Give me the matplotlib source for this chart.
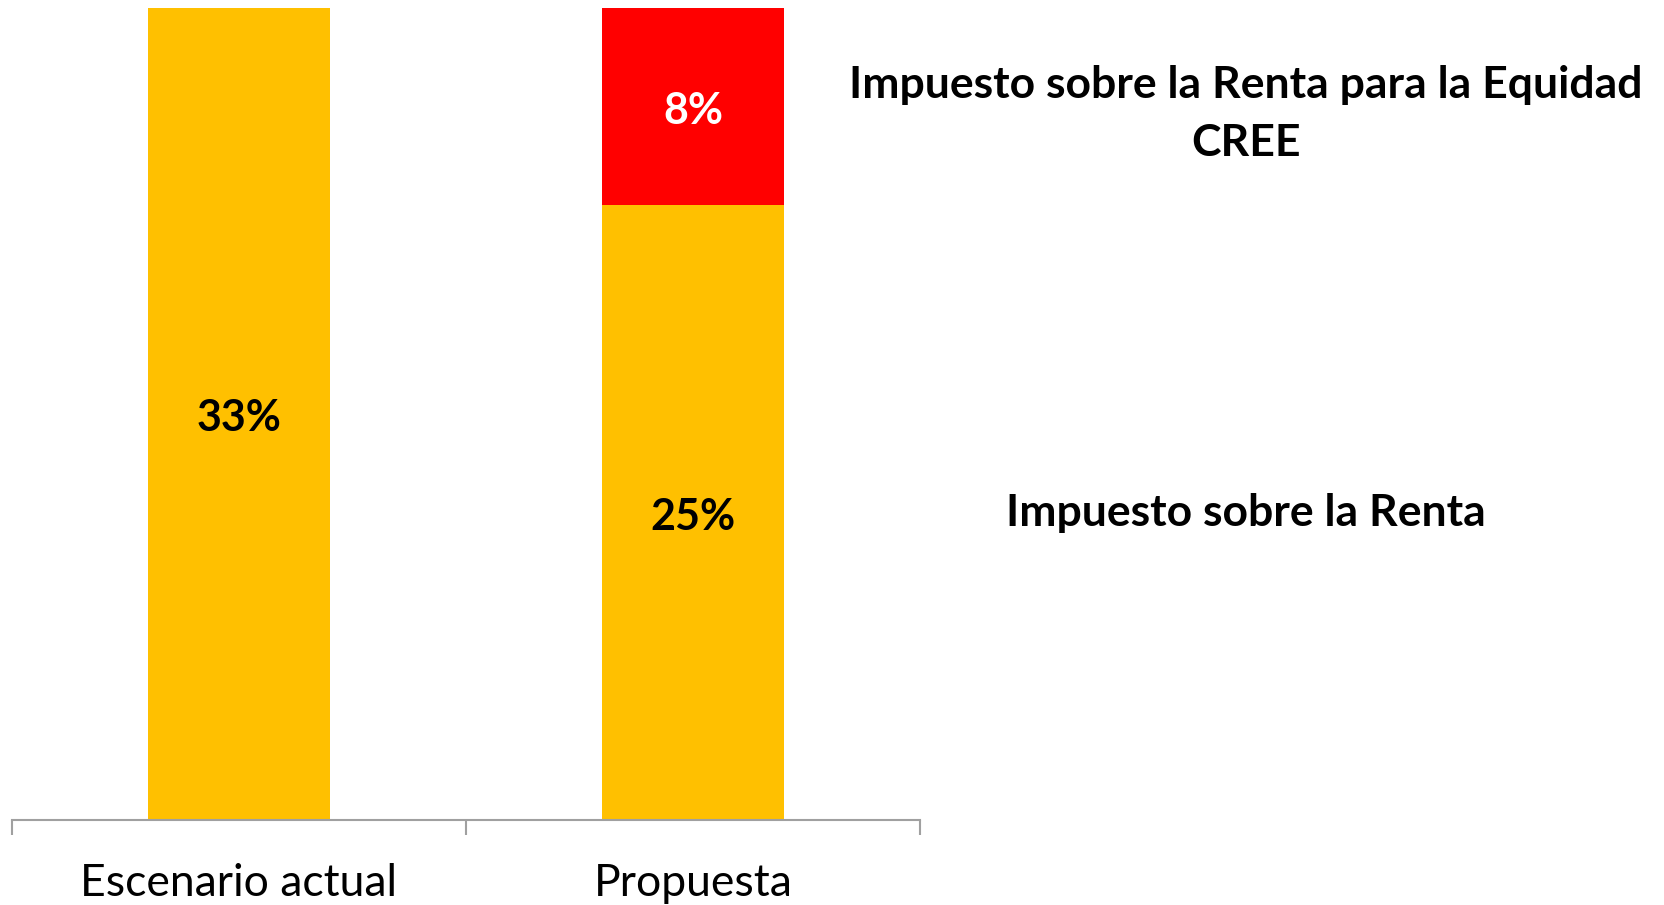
import matplotlib
matplotlib.use("Agg")
import matplotlib.pyplot as plt

escenarios = ["Escenario actual", "Propuesta"]
renta = [33, 25]
cree = [0, 8]
series = ["Impuesto sobre la Renta", "Impuesto sobre la Renta para la Equidad\nCREE"]

plt.rcParams['font.family'] = ['Lato', 'DejaVu Sans']

fig = plt.figure(figsize=(16.65, 9.05), dpi=100)
ax = fig.add_axes([12 / 1665, 1 - 820 / 905, 908 / 1665, 812 / 905])

x = range(len(escenarios))
b1 = ax.bar(x, renta, width=0.4, color='#FFC000')
b2 = ax.bar(x, cree, width=0.4, bottom=renta, color='#FF0000')

# etiquetas de datos, un poco abajo del centro como en el original
for i in x:
    ax.annotate(f"{renta[i]}%", (i, renta[i] / 2), xytext=(0, -3),
                textcoords='offset points', ha='center', va='center',
                fontsize=31, fontweight='bold', color='black')
    if cree[i] > 0:
        ax.annotate(f"{cree[i]}%", (i, renta[i] + cree[i] / 2), xytext=(0, -3),
                    textcoords='offset points', ha='center', va='center',
                    fontsize=31, fontweight='bold', color='white')

ax.set_xlim(-0.5, len(escenarios) - 0.5)
ax.set_ylim(0, 33)
for s in ['top', 'right', 'left']:
    ax.spines[s].set_visible(False)
ax.spines['bottom'].set_color('#A0A0A0')
ax.spines['bottom'].set_linewidth(1.5)
ax.set_yticks([])
ax.set_xticks(list(x))
ax.set_xticklabels(escenarios, fontsize=32)
ax.tick_params(axis='x', which='major', length=0, pad=31)
ax.set_xticks([-0.5, 0.5, 1.5], minor=True)
ax.tick_params(axis='x', which='minor', length=11, width=1.5, color='#A0A0A0', direction='out')

fig.text(1246 / 1665, 1 - 513 / 905, series[0], ha='center', va='center',
         fontsize=32, fontweight='bold')
fig.text(1246 / 1665, 1 - 114 / 905, series[1], ha='center', va='center',
         fontsize=32, fontweight='bold', linespacing=1.55)

fig.savefig('out.png', dpi=100)
